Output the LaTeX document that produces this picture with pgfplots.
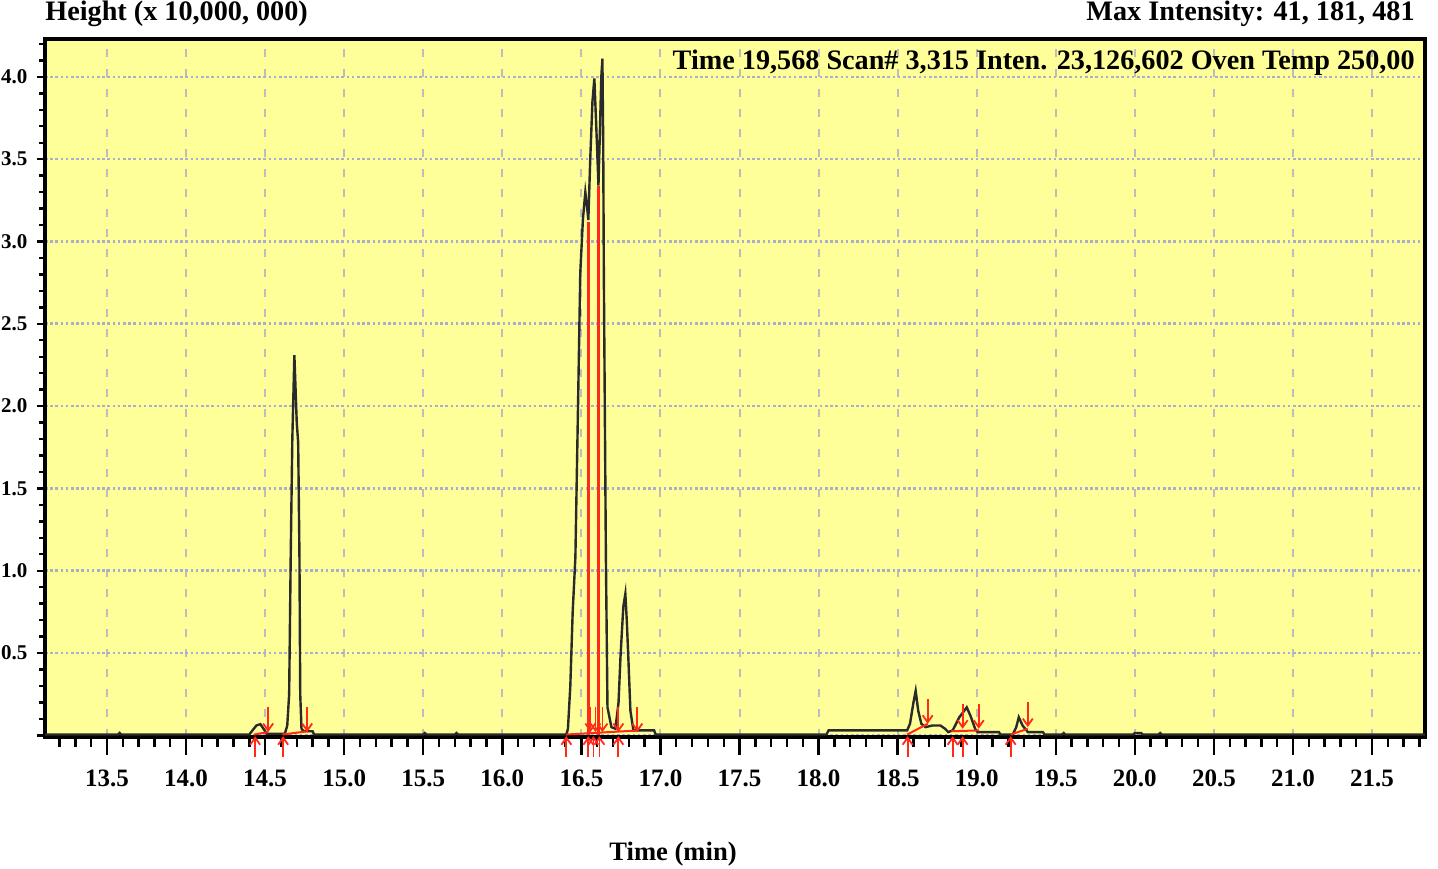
\documentclass[border=0pt]{standalone}
\usepackage{pgfplots}
\pgfplotsset{compat=1.18}
\usepackage{pgfplotstable}
\usepackage{fontspec}
\setmainfont{Liberation Serif}
\usetikzlibrary{arrows.meta}
\definecolor{bgyellow}{HTML}{FFFF99}
\definecolor{gridgray}{HTML}{BDBDBD}
\definecolor{gridblue}{HTML}{A8AECB}
\definecolor{trace}{HTML}{2A2A2A}
\definecolor{intred}{HTML}{FF2A1A}
\newcommand\tf[1]{\fontsize{#1}{#1}\selectfont\bfseries}

\pgfplotstableread{
t h
13.108 0.005
13.570 0.005
13.580 0.015
13.590 0.005
14.400 0.005
14.420 0.030
14.445 0.060
14.470 0.068
14.490 0.040
14.510 0.010
14.625 0.010
14.640 0.060
14.652 0.250
14.662 1.100
14.672 1.800
14.685 2.310
14.700 1.900
14.709 1.780
14.717 1.100
14.722 0.250
14.730 0.040
14.745 0.025
14.800 0.025
14.810 0.005
15.500 0.005
15.510 0.014
15.520 0.005
15.700 0.005
15.710 0.014
15.720 0.005
16.405 0.005
16.415 0.040
16.430 0.300
16.445 0.750
16.462 1.080
16.477 1.900
16.493 2.810
16.510 3.140
16.525 3.300
16.535 3.220
16.544 3.130
16.556 3.500
16.570 3.850
16.582 3.990
16.592 3.750
16.600 3.550
16.608 3.340
16.618 3.700
16.626 4.000
16.633 4.110
16.638 3.600
16.642 2.800
16.655 1.080
16.665 0.170
16.690 0.050
16.715 0.040
16.735 0.200
16.747 0.470
16.765 0.780
16.778 0.860
16.787 0.700
16.797 0.470
16.810 0.150
16.829 0.030
16.960 0.030
16.970 0.005
18.050 0.005
18.063 0.030
18.560 0.030
18.578 0.070
18.600 0.200
18.614 0.270
18.630 0.150
18.650 0.070
18.677 0.050
18.720 0.060
18.770 0.060
18.800 0.040
18.820 0.020
18.848 0.030
18.890 0.110
18.937 0.170
18.960 0.120
18.990 0.040
19.006 0.020
19.140 0.020
19.150 0.005
19.228 0.005
19.250 0.050
19.266 0.110
19.290 0.060
19.323 0.020
19.418 0.020
19.430 0.005
19.540 0.005
19.550 0.014
19.560 0.005
19.990 0.005
20.000 0.014
20.040 0.014
20.050 0.005
20.150 0.005
20.160 0.014
20.170 0.005
21.835 0.005
}\chrom

\pgfplotstableread{
t y
14.437 -0.13
14.614 -0.13
16.405 -0.13
16.544 -0.13
16.576 -0.13
16.614 -0.13
16.734 -0.13
18.563 -0.13
18.848 -0.13
18.911 -0.13
19.215 -0.13
}\uparrows

\pgfplotstableread{
t y
14.519 0.17
14.766 0.17
16.557 0.17
16.589 0.17
16.633 0.17
16.734 0.17
16.854 0.17
18.690 0.22
18.911 0.19
19.013 0.19
19.323 0.20
}\downarrows

\pgfplotstableread{
t y
14.430 0.005
14.520 0.020
nan nan
14.610 0.005
14.770 0.025
nan nan
16.405 0.005
16.860 0.030
nan nan
18.560 0.005
18.690 0.070
nan nan
18.840 0.025
19.013 0.030
nan nan
19.215 0.005
19.323 0.040
}\intbase

\pgfplotstableread{
t y
16.544 0.00
16.544 3.12
nan nan
16.608 0.00
16.608 3.34
}\droplines

\begin{document}
\begin{tikzpicture}
\path[use as bounding box] (0,0) rectangle (719pt,434pt);
\begin{axis}[
  at={(22.5pt,65.5pt)}, anchor=south west,
  scale only axis, width=690pt, height=349pt,
  xmin=13.108, xmax=21.835, ymin=-0.01, ymax=4.23,
  axis background/.style={fill=bgyellow},
  axis line style={line width=1.6pt, black},
  clip=false,
  unbounded coords=jump,
  tick pos=left,
  tick align=outside,
  xtick={13.5,14.0,14.5,15.0,15.5,16.0,16.5,17.0,17.5,18.0,18.5,19.0,19.5,20.0,20.5,21.0,21.5},
  xticklabels={13.5,14.0,14.5,15.0,15.5,16.0,16.5,17.0,17.5,18.0,18.5,19.0,19.5,20.0,20.5,21.0,21.5},
  minor xtick={13.2,13.3,...,21.85},
  ytick={0,0.5,1.0,1.5,2.0,2.5,3.0,3.5,4.0},
  yticklabels={,0.5,1.0,1.5,2.0,2.5,3.0,3.5,4.0},
  minor ytick={0.1,0.2,...,4.25},
  xtick style={line width=1.2pt, black, /pgfplots/major tick length=9pt, /pgfplots/minor tick length=5pt},
  ytick style={line width=1.2pt, black, /pgfplots/major tick length=4pt, /pgfplots/minor tick length=3pt},
  grid=major,
  x grid style={gridgray, line width=1pt, dash pattern=on 4pt off 6pt},
  y grid style={gridblue, line width=1.3pt, dash pattern=on 1.3pt off 1.3pt},
  xticklabel style={font=\tf{12.5pt}, yshift=-8.5pt},
  yticklabel style={font=\tf{10.5pt}, xshift=-1pt},
]
\addplot[intred, line width=1.6pt] table[x=t,y=y] \droplines;
\addplot[trace, line width=1.2pt] table[x=t,y=h] \chrom;
\addplot[intred, line width=1pt] table[x=t,y=y] \intbase;
\addplot[intred, line width=0.9pt, -{Straight Barb[length=3.5pt,width=5pt]}, quiver={u=0,v=0.125}] table[x=t,y=y] \uparrows;
\addplot[intred, line width=0.9pt, -{Straight Barb[length=3.5pt,width=5pt]}, quiver={u=0,v=-0.15}] table[x=t,y=y] \downarrows;
\end{axis}
\node[anchor=base west, font=\tf{14.1pt}, inner sep=0pt] at (22.5pt,423.5pt) {Height (x 10,000, 000)};
\node[anchor=base east, font=\tf{14.1pt}, inner sep=0pt] at (707.5pt,423.5pt) {Max Intensity: 41, 181, 481};
\node[anchor=base east, font=\tf{14.1pt}, inner sep=0pt] at (707.5pt,399pt) {Time 19,568 Scan\# 3,315 Inten. 23,126,602 Oven Temp 250,00};
\node[anchor=base, font=\tf{13.3pt}, inner sep=0pt] at (336.5pt,4pt) {Time (min)};
\end{tikzpicture}
\end{document}
